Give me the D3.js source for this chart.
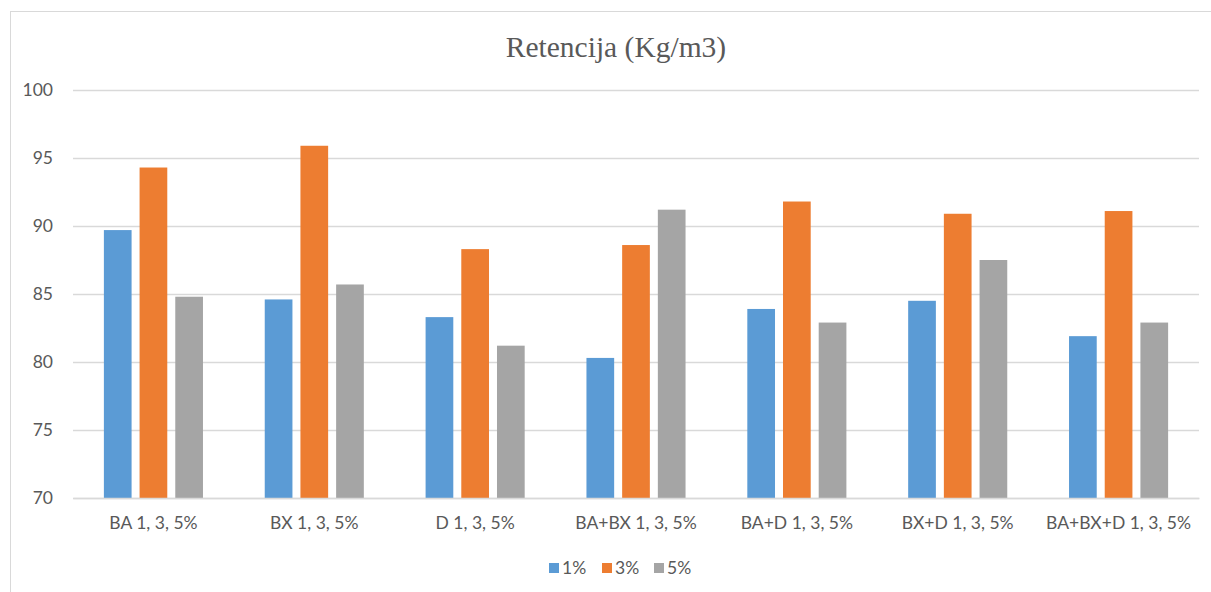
<!DOCTYPE html>
<html><head><meta charset="utf-8">
<script src="https://cdn.jsdelivr.net/npm/d3@7"></script>
<style>body{margin:0;background:#fff}svg{display:block}</style>
</head><body>
<script>
const categories = ["BA 1, 3, 5%","BX 1, 3, 5%","D 1, 3, 5%","BA+BX 1, 3, 5%","BA+D 1, 3, 5%","BX+D 1, 3, 5%","BA+BX+D 1, 3, 5%"];
const seriesNames = ["1%","3%","5%"];
const s1 = [89.7, 84.6, 83.3, 80.3, 83.9, 84.5, 81.9];
const s3 = [94.3, 95.9, 88.3, 88.6, 91.8, 90.9, 91.1];
const s5 = [84.8, 85.7, 81.2, 91.2, 82.9, 87.5, 82.9];
const yTicks = [70, 75, 80, 85, 90, 95, 100];
const colors = ["#5B9BD5", "#ED7D31", "#A5A5A5"];
const title = "Retencija (Kg/m3)";

const W = 1211, H = 592;
const margin = {left: 73, right: 12, top: 90, bottom: 94};
const svg = d3.select("body").append("svg").attr("width", W).attr("height", H);

svg.append("rect").attr("x", 10.5).attr("y", 11.5).attr("width", 1300).attr("height", 700)
  .attr("fill", "none").attr("stroke", "#d9d9d9").attr("stroke-width", 1);

const x0 = d3.scaleBand().domain(categories).range([margin.left, W - margin.right]).paddingInner(0.384).paddingOuter(0.192);
const x1 = d3.scaleBand().domain(seriesNames).range([0, x0.bandwidth()]).paddingInner(0.224);
const y = d3.scaleLinear().domain([70, 100]).range([H - margin.bottom, margin.top]);

const font = "Lato, 'Open Sans', sans-serif";
const fs = "17.5px";

// gridlines
svg.append("g").selectAll("line").data(yTicks).join("line")
  .attr("x1", margin.left).attr("x2", W - margin.right)
  .attr("y1", d => Math.round(y(d)) + 0.5).attr("y2", d => Math.round(y(d)) + 0.5)
  .attr("stroke", "#d9d9d9").attr("stroke-width", 1.3);

// y axis labels
const yAxis = d3.axisLeft(y).tickValues(yTicks).tickSize(0).tickPadding(20);
const gy = svg.append("g").attr("transform", `translate(${margin.left},0)`).call(yAxis);
gy.select(".domain").remove();
gy.selectAll("text").attr("fill", "#595959").style("font-family", font).style("font-size", fs);

// bars
const data = categories.map((c, i) => ({c, vals: [s1[i], s3[i], s5[i]]}));
const groups = svg.append("g").selectAll("g").data(data).join("g")
  .attr("transform", d => `translate(${x0(d.c)},0)`);
groups.selectAll("rect").data(d => d.vals.map((v, j) => ({k: seriesNames[j], v, j}))).join("rect")
  .attr("x", d => x1(d.k)).attr("width", x1.bandwidth())
  .attr("y", d => y(d.v)).attr("height", d => y(70) - y(d.v))
  .attr("fill", d => colors[d.j]);

// x axis labels
const xAxis = d3.axisBottom(x0).tickSize(0).tickPadding(19);
const gx = svg.append("g").attr("transform", `translate(0,${y(70)})`).call(xAxis);
gx.select(".domain").attr("stroke", "#d9d9d9").attr("stroke-width", 1.3);
gx.selectAll("text").attr("fill", "#595959").style("font-family", font).style("font-size", fs);

// title
svg.append("text").attr("x", 616).attr("y", 57).attr("text-anchor", "middle")
  .attr("fill", "#595959").style("font-family", "'Liberation Serif', 'Times New Roman', serif")
  .style("font-size", "29.5px").text(title);

// legend
const legendX = [549, 602, 654];
const lg = svg.append("g").selectAll("g").data(seriesNames).join("g")
  .attr("transform", (d, i) => `translate(${legendX[i]},563)`);
lg.append("rect").attr("width", 10).attr("height", 10).attr("fill", (d, i) => colors[i]);
lg.append("text").attr("x", 13).attr("y", 5).attr("dy", "0.35em")
  .attr("fill", "#595959").style("font-family", font).style("font-size", fs).text(d => d);
</script>
</body></html>
